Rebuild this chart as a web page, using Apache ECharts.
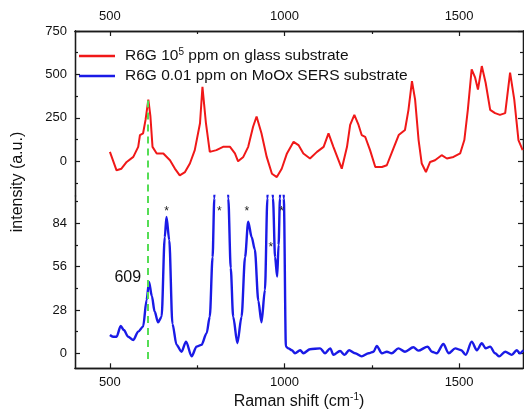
<!DOCTYPE html>
<html>
<head>
<meta charset="utf-8">
<script src="https://cdn.jsdelivr.net/npm/echarts@6/dist/echarts.min.js"></script>
<style>html,body{margin:0;padding:0;background:#fff}#c{width:524px;height:412px}</style>
</head>
<body>
<div id="c"></div>
<script>
// ---- data ----
const redX = [500,519,533,548,567,581,586,595,602,610,616,622,634,653,672,686,700,715,729,743,758,765,775,786,805,824,844,858,867,882,896,910,920,934,949,964,978,992,1007,1026,1040,1054,1073,1093,1112,1126,1140,1164,1179,1188,1200,1212,1221,1231,1245,1260,1279,1293,1312,1327,1345,1355,1365,1374,1384,1393,1405,1417,1431,1450,1465,1484,1503,1515,1525,1536,1546,1554,1565,1576,1589,1603,1617,1632,1646,1658,1670,1682];
const redY = [54,-52,-43,-4,25,83,151,161,238,355,258,83,45,45,6,-42,-81,-62,-13,64,219,428,219,54,64,83,83,45,0,25,83,199,258,161,25,-72,-91,-43,45,112,93,45,16,54,83,161,83,-43,83,209,267,209,151,141,64,-33,-33,-23,74,151,180,296,461,355,122,-13,-62,-4,6,35,16,25,45,122,296,529,481,413,548,452,296,277,267,277,510,355,122,64];
const blueX = [500,509,519,531,540,552,567,581,595,605,612,620,628,638,648,657,662,670,679,691,705,718,734,748,762,777,786,794,799,806,818,830,839,846,853,865,877,887,896,906,915,925,934,944,951,958,967,973,979,983,987,992,998,1004,1011,1021,1030,1045,1054,1073,1102,1116,1131,1140,1159,1172,1185,1202,1221,1241,1255,1264,1279,1293,1307,1326,1345,1369,1383,1410,1422,1436,1455,1470,1489,1506,1519,1536,1551,1565,1576,1589,1603,1615,1632,1651,1665,1674,1684];
const blueY = [11.8,10.7,10.7,17.6,15,10.7,8.6,14,17.2,34.4,46,37,27,20,23.6,75,88,73,19,5.4,1,7.5,-2,4.3,5.4,13,23.6,62,100,170,220,170,100,55,23.6,6.5,23.6,62,85,75,67,34,20,41,100,150,100,62,49.5,70,100,150,100,4.3,3.2,2,0,2,0,2.6,3.2,0,3.2,-1,1.5,-1,2,0,-2,0,1,4.7,0,1,0,3.2,1,3.9,1.7,4.3,1,0,6,0,3.2,2,-1,7.5,2,6.5,3.2,4.3,0,-2,1,-1,2,0,2];
const topTicks = [0,250,500,750];
const topMinor = [-125,125,375,625];
const botTicks = [0,28,56,84];
const botMinor = [14,42,70,98];
const xTicks = [500,1000,1500];
const xMinor = [750,1250];
const starX = [662,813,892,961,991.5];
const starY = [91.6,91.6,91.6,68.5,91.6];
const peakPos = [609];
const peakLabelXY = [551,49];
const redName = 'R6G 10^5 ppm on glass substrate';
const blueName = 'R6G 0.01 ppm on MoOx SERS substrate';

// ---- layout ----
const FONT = 'Liberation Sans, Arial, sans-serif';
const L = 75, W = 448;
const topMin = -200, topMax = 750, botMin = -9.7, botMax = 101.6;
const AX = '#1a1a1a';
const RED = '#f01818', BLUE = '#1a1ae6';

function yAx(grid, pos, min, max, vals, len, label) {
  return {
    type: 'value', gridIndex: grid, position: pos, min: min, max: max,
    axisLine: {show: true, onZero: false, lineStyle: {color: AX, width: 1.3}},
    axisTick: {show: true, inside: true, length: len, customValues: vals, lineStyle: {color: AX, width: 1.2}},
    axisLabel: {show: label, customValues: vals, fontSize: 13, color: '#111', fontFamily: FONT, margin: 8, formatter: v => String(v)},
    splitLine: {show: false}
  };
}
function xAx(grid, pos, vals, len, label, extra) {
  return Object.assign({
    type: 'value', gridIndex: grid, position: pos, min: 400, max: 1683,
    axisLine: {show: true, onZero: false, lineStyle: {color: AX, width: 1.3}},
    axisTick: {show: true, inside: true, length: len, customValues: vals, lineStyle: {color: AX, width: 1.2}},
    axisLabel: {show: label, customValues: vals, fontSize: 13, color: '#111', fontFamily: FONT, margin: 8, formatter: v => String(v)},
    splitLine: {show: false}
  }, extra || {});
}

const chart = echarts.init(document.getElementById('c'), null, {renderer: 'canvas'});
chart.setOption({
  animation: false,
  backgroundColor: '#fff',
  textStyle: {fontFamily: FONT},
  grid: [
    {left: L, top: 31, width: W, height: 165},
    {left: L, top: 196, width: W, height: 172.3}
  ],
  xAxis: [
    xAx(0, 'top', xTicks, 5, true),
    xAx(0, 'top', xMinor, 3, false),
    xAx(1, 'bottom', xTicks, 5, true, {
      name: '{a|Raman shift (cm}{s|-1}{a|)}', nameLocation: 'middle', nameGap: 24,
      nameTextStyle: {rich: {a: {fontSize: 16, color: '#111', fontFamily: FONT}, s: {fontSize: 10, color: '#111', fontFamily: FONT, padding: [0, 0, 9, 0]}}}
    }),
    xAx(1, 'bottom', xMinor, 3, false)
  ],
  yAxis: [
    yAx(0, 'left', topMin, topMax, topTicks, 5, true),
    yAx(0, 'left', topMin, topMax, topMinor, 3, false),
    yAx(0, 'right', topMin, topMax, topTicks, 5, false),
    yAx(0, 'right', topMin, topMax, topMinor, 3, false),
    yAx(1, 'left', botMin, botMax, botTicks, 5, true),
    yAx(1, 'left', botMin, botMax, botMinor, 3, false),
    yAx(1, 'right', botMin, botMax, botTicks, 5, false),
    yAx(1, 'right', botMin, botMax, botMinor, 3, false)
  ],
  legend: {
    left: 74, top: 42, orient: 'vertical', itemWidth: 36, itemHeight: 2.4, itemGap: 3,
    icon: 'rect',
    data: [{name: redName, itemStyle: {color: RED}}, {name: blueName, itemStyle: {color: BLUE}}],
    formatter: function (n) {
      return n === redName ? '{a|R6G 10}{s|5}{a| ppm on glass substrate}' : '{a|R6G 0.01 ppm on MoOx SERS substrate}';
    },
    textStyle: {padding: [0, 0, 0, 5], rich: {
      a: {fontSize: 15.5, color: '#111', fontFamily: FONT, lineHeight: 18},
      s: {fontSize: 10, color: '#111', fontFamily: FONT, lineHeight: 18, padding: [0, 0, 8, 0]}
    }}
  },
  graphic: [{
    type: 'text', x: 18, y: 182, rotation: Math.PI / 2,
    style: {text: 'intensity (a.u.)', fontSize: 16, fill: '#111', fontFamily: FONT, align: 'center', verticalAlign: 'middle'}
  }],
  series: [
    {
      name: redName, type: 'line', xAxisIndex: 0, yAxisIndex: 0, symbol: 'none', clip: true,
      data: redX.map((x, i) => [x, redY[i]]),
      lineStyle: {color: RED, width: 2}, itemStyle: {color: RED}, z: 2,
      markLine: {silent: true, symbol: 'none', label: {show: false}, z: 5,
        lineStyle: {color: '#55dd55', type: [7, 5], width: 2},
        data: [[{coord: [peakPos[0], 350]}, {coord: [peakPos[0], topMin]}]]}
    },
    {
      name: blueName, type: 'line', xAxisIndex: 2, yAxisIndex: 4, symbol: 'none', clip: true,
      smooth: 0.3, smoothMonotone: 'x',
      data: blueX.map((x, i) => [x, blueY[i]]),
      lineStyle: {color: BLUE, width: 2.4}, itemStyle: {color: BLUE}, z: 2,
      markLine: {silent: true, symbol: 'none', label: {show: false}, z: 5,
        lineStyle: {color: '#55dd55', type: [7, 5], width: 2},
        data: [[{coord: [peakPos[0], botMax]}, {coord: [peakPos[0], -5.4]}]]},
      markPoint: {silent: true, symbol: 'circle', symbolSize: 0,
        data: starX.map((x, i) => ({coord: [x, starY[i]], label: {show: true, formatter: '*', fontSize: 12, color: '#222', position: 'inside'}}))
          .concat([{coord: peakLabelXY, label: {show: true, formatter: String(peakPos[0]), fontSize: 16, color: '#111', fontFamily: FONT, position: 'inside'}}])
      }
    }
  ]
});
</script>
</body>
</html>
